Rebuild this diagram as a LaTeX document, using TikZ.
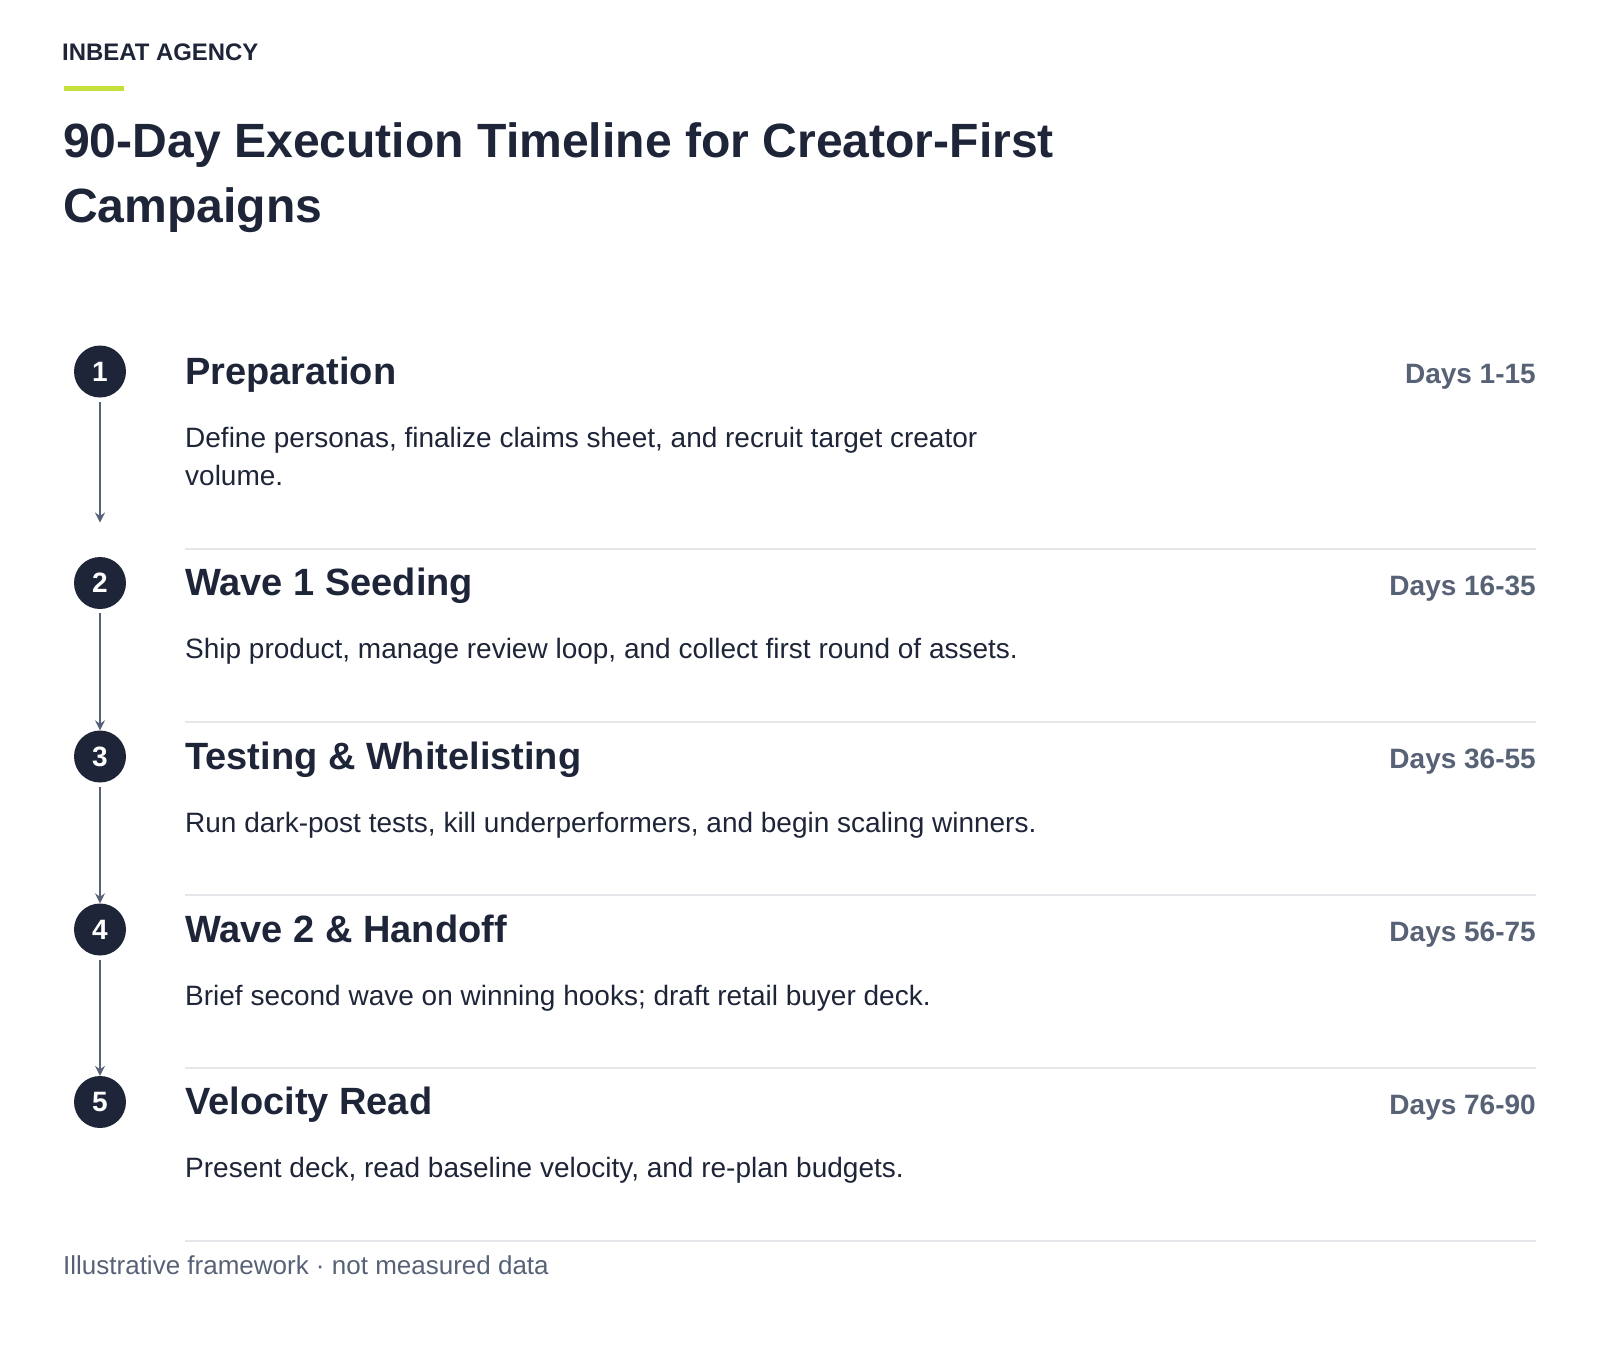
\documentclass[tikz,border=0pt]{standalone}
\usepackage{fontspec}
\setmainfont{Liberation Sans}
\usetikzlibrary{arrows.meta}
\definecolor{inkdark}{RGB}{30,37,56}
\definecolor{daygray}{RGB}{88,98,118}
\definecolor{rulegray}{RGB}{229,231,235}
\definecolor{limegreen}{RGB}{197,224,58}

\begin{document}
\begin{tikzpicture}[x=1pt, y=-1pt,
    stepnum/.style={circle, fill=inkdark, text=white, minimum size=52pt, inner sep=0pt, font=\fontsize{28}{33}\selectfont\bfseries},
    steptitle/.style={anchor=base west, inner sep=0pt, text=inkdark, font=\fontsize{38}{46}\selectfont\bfseries},
    stepdays/.style={anchor=base east, inner sep=0pt, text=daygray, font=\fontsize{28}{33}\selectfont\bfseries},
    stepdesc/.style={anchor=base west, inner sep=0pt, text=inkdark, align=left, font=\fontsize{28}{38.8}\selectfont},
    sepline/.style={draw=rulegray, line width=2pt},
    flowarrow/.style={draw=daygray, line width=2.8pt, shorten <=4pt, -{Stealth[length=10pt, width=10pt, inset=3.5pt]}}]
    \useasboundingbox (0,0) rectangle (1600,1355);

    % header
    \node (brand) [anchor=base west, inner sep=0pt, text=inkdark, font=\fontsize{23.9}{28}\selectfont\bfseries] at (62,60) {INBEAT AGENCY};
    \fill[limegreen] (64,86) rectangle (124,91);
    % base of a two-line node sits on its last line
    \node (head) [anchor=base west, inner sep=0pt, text=inkdark, align=left, font=\fontsize{48.1}{65}\selectfont\bfseries] at (63,222) {90-Day Execution Timeline for Creator-First\\Campaigns};

    % steps
    \node (n1) [stepnum] at (100,371.5) {1};
    \node (t1) [steptitle] at (185,384.1) {Preparation};
    \node (d1) [stepdays] at (1536,383.8) {Days 1-15};
    \node (x1) [stepdesc] at (185,485.8) {Define personas, finalize claims sheet, and recruit target creator\\volume.};

    \draw[sepline] (185,548.5) -- (1536,548.5);
    \node (n2) [stepnum] at (100,583) {2};
    \node (t2) [steptitle] at (185,595.6) {Wave 1 Seeding};
    \node (d2) [stepdays] at (1536,595.3) {Days 16-35};
    \node (x2) [stepdesc] at (185,658.5) {Ship product, manage review loop, and collect first round of assets.};

    \draw[sepline] (185,722) -- (1536,722);
    \node (n3) [stepnum] at (100,756.5) {3};
    \node (t3) [steptitle] at (185,769.1) {Testing \& Whitelisting};
    \node (d3) [stepdays] at (1536,768.8) {Days 36-55};
    \node (x3) [stepdesc] at (185,832) {Run dark-post tests, kill underperformers, and begin scaling winners.};

    \draw[sepline] (185,895) -- (1536,895);
    \node (n4) [stepnum] at (100,929.5) {4};
    \node (t4) [steptitle] at (185,942.1) {Wave 2 \& Handoff};
    \node (d4) [stepdays] at (1536,941.8) {Days 56-75};
    \node (x4) [stepdesc] at (185,1005) {Brief second wave on winning hooks; draft retail buyer deck.};

    \draw[sepline] (185,1067.5) -- (1536,1067.5);
    \node (n5) [stepnum] at (100,1102) {5};
    \node (t5) [steptitle] at (185,1114.6) {Velocity Read};
    \node (d5) [stepdays] at (1536,1114.3) {Days 76-90};
    \node (x5) [stepdesc] at (185,1177.5) {Present deck, read baseline velocity, and re-plan budgets.};

    % connectors
    \coordinate (a1) at (100,522.5);
    \draw[flowarrow] (n1) -- (a1);
    \draw[flowarrow] (n2) -- (n3);
    \draw[flowarrow] (n3) -- (n4);
    \draw[flowarrow] (n4) -- (n5);

    % footer
    \draw[sepline] (185,1240.7) -- (1536,1240.7);
    \node (note) [anchor=base west, inner sep=0pt, text=daygray, font=\fontsize{26}{31}\selectfont] at (63,1274) {Illustrative framework · not measured data};
\end{tikzpicture}
\end{document}
